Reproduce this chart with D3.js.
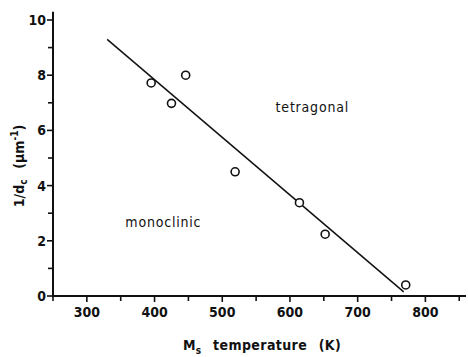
<!DOCTYPE html>
<html>
<head>
<meta charset="utf-8">
<script src="https://cdn.jsdelivr.net/npm/d3@7"></script>
<style>
  html, body { margin: 0; padding: 0; background: #fff; }
  svg text { font-family: "DejaVu Sans Condensed", "DejaVu Sans", sans-serif; font-stretch: condensed; fill: #111; }
</style>
</head>
<body>
<svg id="chart" width="468" height="357"></svg>
<script>
// Ms temperature (K) versus inverse critical particle size 1/dc (µm^-1)
const msTemperature = [395, 425, 446, 519, 614, 652, 771];
const inverseSize   = [7.72, 6.98, 8.0, 4.5, 3.38, 2.24, 0.4];

// fitted boundary line endpoints
const fitTemperature = [330, 768];
const fitInverseSize = [9.3, 0.15];

const xMajorTicks = [300, 400, 500, 600, 700, 800];
const xMinorTicks = [250, 350, 450, 550, 650, 750, 850];
const yMajorTicks = [0, 2, 4, 6, 8, 10];
const yMinorTicks = [1, 3, 5, 7, 9];

const regionLabels = ["tetragonal", "monoclinic"];
const regionTemp   = [633, 413];
const regionValue  = [6.65, 2.5];

const svg = d3.select("#chart");
const margin = { left: 53, top: 12, right: 2, bottom: 61 };
const W = 468, H = 357;

const x = d3.scaleLinear().domain([250, 860]).range([margin.left, W - margin.right]);
const y = d3.scaleLinear().domain([0, 10]).range([296, 20]);

const ink = "#111";

// x axis
const gx = svg.append("g").attr("transform", `translate(0,${y(0)})`);
gx.append("line").attr("x1", x(250)).attr("x2", x(860))
  .attr("stroke", ink).attr("stroke-width", 2);
gx.selectAll("line.major").data(xMajorTicks).join("line").attr("class", "major")
  .attr("x1", d => x(d)).attr("x2", d => x(d)).attr("y1", 0).attr("y2", 6)
  .attr("stroke", ink).attr("stroke-width", 1.6);
gx.selectAll("line.minor").data(xMinorTicks).join("line").attr("class", "minor")
  .attr("x1", d => x(d)).attr("x2", d => x(d)).attr("y1", 0).attr("y2", 5)
  .attr("stroke", ink).attr("stroke-width", 1.6);
gx.selectAll("text").data(xMajorTicks).join("text")
  .attr("x", d => x(d)).attr("y", 21).attr("text-anchor", "middle")
  .attr("font-size", 14).attr("font-weight", "bold").text(d => d);

// y axis
const gy = svg.append("g").attr("transform", `translate(${x(250)},0)`);
gy.append("line").attr("y1", y(0) + 1).attr("y2", y(10.3))
  .attr("stroke", ink).attr("stroke-width", 2);
gy.selectAll("line.major").data(yMajorTicks).join("line").attr("class", "major")
  .attr("y1", d => y(d)).attr("y2", d => y(d)).attr("x1", -6).attr("x2", 0)
  .attr("stroke", ink).attr("stroke-width", 1.6);
gy.selectAll("line.minor").data(yMinorTicks).join("line").attr("class", "minor")
  .attr("y1", d => y(d)).attr("y2", d => y(d)).attr("x1", -5).attr("x2", 0)
  .attr("stroke", ink).attr("stroke-width", 1.6);
gy.selectAll("text").data(yMajorTicks).join("text")
  .attr("x", -7).attr("y", d => y(d) + 5).attr("text-anchor", "end")
  .attr("font-size", 14).attr("font-weight", "bold").text(d => d);

// fitted line
svg.append("line")
  .attr("x1", x(fitTemperature[0])).attr("y1", y(fitInverseSize[0]))
  .attr("x2", x(fitTemperature[1])).attr("y2", y(fitInverseSize[1]))
  .attr("stroke", ink).attr("stroke-width", 1.5);

// data points
svg.selectAll("circle").data(msTemperature).join("circle")
  .attr("cx", d => x(d)).attr("cy", (d, i) => y(inverseSize[i]))
  .attr("r", 4).attr("fill", "#fff").attr("stroke", ink).attr("stroke-width", 1.6);

// region labels
svg.selectAll("text.region").data(regionLabels).join("text").attr("class", "region")
  .attr("x", (d, i) => x(regionTemp[i])).attr("y", (d, i) => y(regionValue[i]))
  .attr("text-anchor", "middle").attr("font-size", 14).attr("letter-spacing", 0.8)
  .text(d => d);

// x axis title
const xt = svg.append("text").attr("x", 262).attr("y", 350)
  .attr("text-anchor", "middle").attr("font-size", 14).attr("font-weight", "bold")
  .attr("letter-spacing", 0.4);
xt.append("tspan").text("M");
xt.append("tspan").attr("font-size", 10).attr("dy", 4).text("s");
xt.append("tspan").attr("dy", -4).text("\u2002 temperature \u2002(K)");

// y axis title
const yt = svg.append("text")
  .attr("transform", "translate(24,166) rotate(-90)")
  .attr("text-anchor", "middle").attr("font-size", 14).attr("font-weight", "bold");
yt.append("tspan").text("1/d");
yt.append("tspan").attr("font-size", 10).attr("dy", 3).text("c");
yt.append("tspan").attr("dy", -3).text("\u2002 (\u00b5m");
yt.append("tspan").attr("font-size", 10).attr("dy", -6).text("-1");
yt.append("tspan").attr("dy", 6).text(")");
</script>
</body>
</html>
